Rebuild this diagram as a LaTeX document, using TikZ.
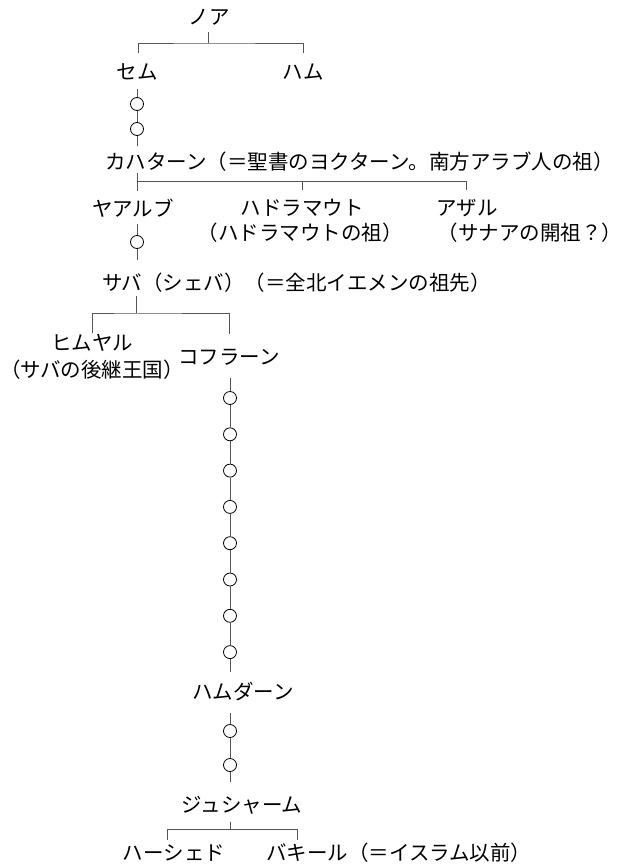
\documentclass[tikz,border=0pt]{standalone}
\usepackage{fontspec}
\setmainfont{Noto Sans CJK JP}
\definecolor{MyGray}{RGB}{85, 85, 85}
\newcommand{\lw}{1pt}

\begin{document}
\begin{tikzpicture}[x=1bp, y=-1bp,
  every node/.style={font=\fontsize{20.5bp}{24bp}\selectfont, inner sep=0pt},
  conn/.style={draw=MyGray, line width=\lw},
  gen/.style={circle, draw=black, fill=white, line width=0.8pt, minimum size=13bp}]
  \useasboundingbox (0,0) rectangle (625,868);
  % names
  \node (noah)   at (209, 17) {ノア};
  \node (shem)   at (137, 72) {セム};
  \node (ham)    at (303, 72) {ハム};
  \node[anchor=west] (kahtan) at (105,162) {カハターン（＝聖書のヨクターン。南方アラブ人の祖）};
  \node (yarub)  at (133,208) {ヤアルブ};
  \node (hadra)  at (302,208) {ハドラマウト};
  \node (hadras) at (300,233) {（ハドラマウトの祖）};
  \node (azal)   at (467,208) {アザル};
  \node (azals)  at (530,233) {（サナアの開祖？）};
  \node[anchor=west] (saba) at (102,283) {サバ（シェバ）（＝全北イエメンの祖先）};
  \node (himyar)  at (92,343) {ヒムヤル};
  \node[anchor=west] (himyars) at (0,370) {（サバの後継王国）};
  \node (kahlan) at (229,357) {コフラーン};
  \node (hamdan) at (243,692) {ハムダーン};
  \node (jusham) at (242,805) {ジュシャーム};
  \node (hashid) at (174,853) {ハーシェド};
  \node[anchor=west] (bakil) at (266,853) {バキール（＝イスラム以前）};
  % unnamed generations
  \node[gen] (s1) at (137,104) {};
  \node[gen] (s2) at (137,129) {};
  \node[gen] (y1) at (137,242) {};
  \foreach \i in {1,...,8}
    \node[gen] (k\i) at (230,{398+36.3*(\i-1)}) {};
  \node[gen] (h1) at (230,731) {};
  \node[gen] (h2) at (230,765) {};
  % line ends
  \coordinate (noah-b)   at (208, 32);
  \coordinate (noah-j)   at (208, 43);
  \coordinate (shem-t)   at (138, 53);
  \coordinate (ham-t)    at (303, 53);
  \coordinate (shem-b)   at (137, 89);
  \coordinate (kahtan-t) at (137,146);
  \coordinate (kahtan-b) at (137,173);
  \coordinate (kahtan-j) at (137,181);
  \coordinate (yarub-t)  at (137,191);
  \coordinate (hadra-t)  at (302,190);
  \coordinate (azal-t)   at (466,190);
  \coordinate (yarub-b)  at (137,224);
  \coordinate (saba-t)   at (137,260);
  \coordinate (saba-b)   at (136,296);
  \coordinate (saba-j)   at (136,313);
  \coordinate (himyar-t) at (92,333);
  \coordinate (kahlan-t) at (229,334);
  \coordinate (kahlan-b) at (230,378);
  \coordinate (hamdan-t) at (230,672);
  \coordinate (hamdan-b) at (230,713);
  \coordinate (jusham-t) at (230,782);
  \coordinate (jusham-b) at (230,822);
  \coordinate (jusham-j) at (230,829);
  \coordinate (hashid-t) at (167,840);
  \coordinate (bakil-t)  at (297,840);
  % brackets
  \draw[conn] (noah-b) -- (noah-j);
  \draw[conn] (shem-t) |- (noah-j) -| (ham-t);
  \draw[conn] (kahtan-b) -- (yarub-t);
  \draw[conn] (kahtan-j) -| (azal-t);
  \draw[conn] (hadra-t) -- (hadra-t |- kahtan-j);
  \draw[conn] (saba-b) -- (saba-j);
  \draw[conn] (himyar-t) |- (saba-j) -| (kahlan-t);
  \draw[conn] (jusham-b) -- (jusham-j);
  \draw[conn] (hashid-t) |- (jusham-j) -| (bakil-t);
  % chains
  \draw[conn] (shem-b) -- (s1) -- (s2) -- (kahtan-t);
  \draw[conn] (yarub-b) -- (y1) -- (saba-t);
  \draw[conn] (kahlan-b) -- (k1);
  \foreach \i [count=\j from 2] in {1,...,7}
    \draw[conn] (k\i) -- (k\j);
  \draw[conn] (k8) -- (hamdan-t);
  \draw[conn] (hamdan-b) -- (h1) -- (h2) -- (jusham-t);
\end{tikzpicture}
\end{document}
